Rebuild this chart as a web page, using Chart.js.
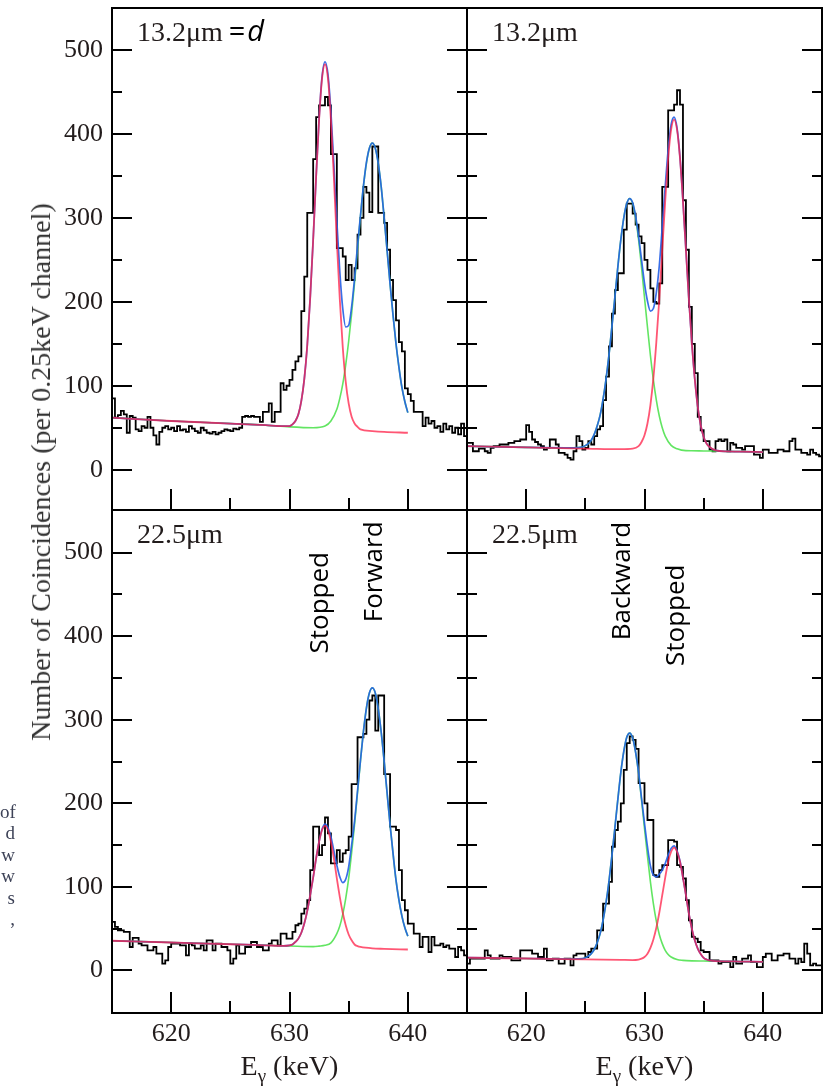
<!DOCTYPE html>
<html>
<head>
<meta charset="utf-8">
<script src="https://cdn.jsdelivr.net/npm/chart.js@4.4.1/dist/chart.umd.min.js"></script>
<style>
  body { margin: 0; background: #fff; width: 825px; height: 1088px; position: relative; overflow: hidden; }
  canvas { position: absolute; }
  #ytitle {
    position: absolute; left: 41px; top: 472px;
    transform: translate(-50%, -50%) rotate(-90deg);
    white-space: nowrap; font: 28px "Liberation Serif"; color: #333;
  }
  #margin-text {
    position: absolute; left: 0; top: 801px; width: 15px; text-align: right;
    font: 19px/21.4px "Liberation Serif"; color: #3d4257;
  }
</style>
</head>
<body>
<canvas id="tl" width="470" height="512" style="left:0;top:0"></canvas>
<canvas id="tr" width="360" height="512" style="left:465px;top:0"></canvas>
<canvas id="bl" width="470" height="588" style="left:0;top:500px"></canvas>
<canvas id="br" width="360" height="588" style="left:465px;top:500px"></canvas>
<div id="ytitle">Number of Coincidences (per 0.25keV channel)</div>
<div id="margin-text">of<br>d<br>w<br>w<br>s<br>,</div>
<script>
// 0.25 keV channels from 615 keV
const binStart = 615;
const binWidth = 0.25;

const yTickValues = [0, 100, 200, 300, 400, 500];
const yMinorValues = [50, 150, 250, 350, 450];
const xTickValues = [620, 630, 640];
const xMinorValues = [625, 635];

// counts per channel, one row per keV
const tlCounts = [
  85, 62, 65, 70,  66, 44, 64, 62,  48, 46, 52, 50,  63, 50, 41, 30,  45, 50, 52, 48,
  50, 46, 52, 47,  48, 45, 52, 49,  46, 44, 50, 47,  44, 43, 45, 42,  44, 46, 48, 47,
  46, 49, 48, 50,  63, 64, 63, 64,  63, 63, 57, 69,  69, 79, 57, 69,  69, 103, 95, 100,
  107, 119, 129, 135,  189, 230, 306, 306,  370, 420, 434, 434,  444, 434, 376, 376,  264, 264, 254, 226,
  244, 226, 240, 280,  300, 337, 330, 307,  385, 385, 306, 306,  294, 262, 226, 202,  178, 152, 141, 97,
  90, 82, 69, 69,  69, 52, 62, 55,  58, 50, 52, 45,  55, 48, 52, 44,  50, 42, 55, 40
];
const trCounts = [
  32, 32, 22, 22,  25, 25, 22, 20,  26, 28, 28, 30,  30, 30, 32, 32,  34, 34, 36, 36,
  53, 45, 36, 33,  30, 28, 24, 26,  36, 36, 30, 20,  20, 18, 14, 12,  22, 40, 34, 24,
  26, 34, 30, 40,  48, 52, 83, 111,  147, 186, 214, 234,  234, 286, 317, 317,  305, 292, 278, 270,
  250, 238, 216, 200,  198, 222, 337, 337,  428, 428, 435, 452,  435, 321, 262, 194,  150, 115, 63, 47,
  34, 34, 24, 22,  34, 36, 34, 36,  22, 32, 30, 26,  26, 24, 28, 28,  28, 18, 18, 14,
  24, 24, 20, 20,  20, 24, 24, 22,  22, 34, 37, 24,  24, 20, 20, 18,  24, 20, 18, 16
];
const blCounts = [
  58, 52, 48, 48,  46, 46, 28, 39,  39, 32, 30, 30,  24, 24, 28, 20,  20, 8, 12, 28,
  32, 32, 32, 30,  30, 18, 32, 30,  26, 26, 30, 24,  36, 36, 24, 32,  32, 28, 28, 24,
  8, 14, 30, 20,  20, 28, 28, 34,  34, 28, 28, 24,  24, 32, 36, 36,  30, 44, 44, 38,
  38, 46, 54, 56,  68, 74, 84, 120,  172, 172, 138, 150,  183, 164, 128, 128,  144, 130, 140, 144,
  160, 223, 223, 279,  279, 283, 300, 323,  329, 287, 329, 329,  235, 235, 172, 172,  168, 120, 84, 72,
  56, 56, 44, 44,  28, 40, 40, 22,  40, 30, 30, 32,  28, 30, 26, 26,  16, 28, 24, 18
];
const brCounts = [
  8, 14, 14, 14,  14, 14, 24, 18,  14, 14, 14, 18,  16, 16, 16, 12,  12, 12, 24, 24,
  24, 24, 20, 20,  16, 16, 26, 12,  12, 14, 14, 8,  8, 14, 14, 6,  18, 20, 20, 20,
  16, 22, 26, 26,  48, 48, 80, 80,  106, 148, 168, 178,  200, 240, 272, 280,  276, 265, 224, 224,
  200, 180, 180, 114,  112, 120, 126, 126,  156, 156, 154, 126,  124, 110, 84, 60,  40, 38, 34, 24,
  22, 22, 12, 12,  12, 8, 10, 10,  10, 4, 16, 8,  8, 14, 14, 18,  10, 10, 4, 4,
  16, 20, 20, 12,  12, 18, 18, 20,  20, 14, 14, 8,  14, 10, 32, 20,  6, 8, 6, 6
];

// fitted curves [E (keV), counts]: red = stopped, green = shifted, blue = sum
const tlRed = [[615,62],[620,58],[625,55],[628,53],[629.5,52],[630,52],[630.25,54],[630.5,58],[630.75,66],[631,82],[631.25,108],[631.5,148],[631.75,205],[632,274],[632.25,349],[632.5,417],[632.75,466],[633,483],[633.25,466],[633.5,417],[633.75,348],[634,272],[634.25,203],[634.5,146],[634.75,105],[635,79],[635.25,63],[635.5,55],[635.75,51],[636,48],[637,46],[638,45],[640,44]];
const tlGreen = [[615,62],[620,58],[625,55],[628,53],[630,51],[632,50],[633,52],[633.5,58],[634,72],[634.25,85],[634.5,102],[634.75,125],[635,153],[635.25,186],[635.5,223],[635.75,263],[636,302],[636.25,338],[636.5,365],[636.75,383],[637,389],[637.25,383],[637.5,365],[637.75,337],[638,300],[638.25,261],[638.5,221],[638.75,184],[639,150],[639.25,122],[639.5,98],[639.75,81],[640,68]];
const tlBlue = [[615,62],[620,58],[625,55],[628,53],[629.5,52],[630,52],[630.25,54],[630.5,58],[630.75,66],[631,82],[631.25,108],[631.5,148],[631.75,205],[632,274],[632.25,349],[632.5,418],[632.75,468],[633,486],[633.25,471],[633.5,426],[633.75,363],[634,296],[634.25,236],[634.5,192],[634.75,170],[635,172],[635.25,194],[635.5,228],[635.75,267],[636,303],[636.25,338],[636.5,366],[636.75,383],[637,389],[637.25,383],[637.5,365],[637.75,337],[638,300],[638.25,261],[638.5,221],[638.75,184],[639,150],[639.25,122],[639.5,98],[639.75,81],[640,68]];

const trRed = [[615,28],[620,26.6],[625,25.2],[628,24.4],[629,25],[629.5,28],[629.75,33],[630,41],[630.25,55],[630.5,77],[630.75,109],[631,152],[631.25,203],[631.5,262],[631.75,320],[632,371],[632.25,405],[632.5,417],[632.75,405],[633,371],[633.25,320],[633.5,262],[633.75,203],[634,151],[634.25,108],[634.5,75],[634.75,53],[635,39],[635.25,31],[635.5,27],[636,23],[637,21.8],[638,21.6],[640,21]];
const trGreen = [[615,28],[620,26.6],[623,26],[624,26],[624.75,27],[625.25,31],[625.5,35],[625.75,42],[626,52],[626.25,65],[626.5,84],[626.75,108],[627,137],[627.25,171],[627.5,206],[627.75,242],[628,274],[628.25,300],[628.5,317],[628.75,323],[629,317],[629.25,300],[629.5,274],[629.75,241],[630,205],[630.25,170],[630.5,136],[630.75,107],[631,83],[631.25,64],[631.5,50],[631.75,40],[632.25,29],[632.75,25],[633.5,22.7],[634,22.6],[635,22.3],[636,22.1],[637,21.8],[638,21.6],[640,21]];
const trBlue = [[615,28],[620,26.6],[624,26],[624.75,27],[625.25,31],[625.5,35],[625.75,42],[626,52],[626.25,65],[626.5,84],[626.75,108],[627,137],[627.25,171],[627.5,206],[627.75,242],[628,274],[628.25,300],[628.5,317],[628.75,323],[629,318],[629.25,302],[629.5,278],[629.75,250],[630,222],[630.25,201],[630.5,189],[630.75,192],[631,211],[631.25,243],[631.5,289],[631.75,337],[632,381],[632.25,411],[632.5,420],[632.75,407],[633,372],[633.25,320],[633.5,262],[633.75,203],[634,151],[634.25,108],[634.5,75],[634.75,53],[635,39],[635.25,31],[635.5,27],[636,23],[637,21.8],[638,21.6],[640,21]];

const blRed = [[615,35.5],[620,33.4],[625,31.3],[628,30],[629.5,29.4],[630,30],[630.25,31],[630.5,34],[630.75,38],[631,45],[631.25,56],[631.5,71],[631.75,90],[632,111],[632.25,134],[632.5,154],[632.75,168],[633,173],[633.25,168],[633.5,154],[633.75,134],[634,110],[634.25,88],[634.5,69],[634.75,54],[635,43],[635.25,36],[635.5,31],[635.75,29],[636,28],[637,26.3],[638,25.8],[640,25]];
const blGreen = [[615,35.5],[620,33.4],[625,31.3],[628,30],[630,29.2],[632,28.4],[632.5,29],[633,30],[633.5,33],[634,44],[634.25,53],[634.5,67],[634.75,86],[635,110],[635.25,141],[635.5,175],[635.75,213],[636,251],[636.25,286],[636.5,314],[636.75,332],[637,338],[637.25,332],[637.5,313],[637.75,285],[638,250],[638.25,212],[638.5,174],[638.75,140],[639,108],[639.25,84],[639.5,65],[639.75,51],[640,41]];
const blBlue = [[615,35.5],[620,33.4],[625,31.3],[628,30],[629.5,29.4],[630,30],[630.25,31],[630.5,34],[630.75,38],[631,45],[631.25,56],[631.5,71],[631.75,90],[632,111],[632.25,134],[632.5,154],[632.75,169],[633,175],[633.25,171],[633.5,160],[633.75,143],[634,126],[634.25,112],[634.5,105],[634.75,109],[635,124],[635.25,150],[635.5,179],[635.75,215],[636,252],[636.25,286],[636.5,314],[636.75,332],[637,338],[637.25,332],[637.5,313],[637.75,285],[638,250],[638.25,212],[638.5,174],[638.75,140],[639,108],[639.25,84],[639.5,65],[639.75,51],[640,41]];

const brRed = [[615,15.2],[620,14.2],[625,13.2],[628,12.6],[629,12.4],[629.5,13],[629.75,14],[630,16],[630.25,20],[630.5,27],[630.75,37],[631,51],[631.25,69],[631.5,90],[631.75,111],[632,130],[632.25,142],[632.5,147],[632.75,142],[633,130],[633.25,111],[633.5,90],[633.75,68],[634,50],[634.25,36],[634.5,26],[634.75,19.5],[635,15],[635.25,13],[635.5,12],[636,11],[637,10.8],[638,10.6],[640,10.2]];
const brGreen = [[615,15.2],[620,14.2],[623,13.6],[624,13.6],[624.75,14],[625.25,17],[625.5,20],[625.75,25],[626,33],[626.25,44],[626.5,60],[626.75,81],[627,107],[627.25,138],[627.5,171],[627.75,205],[628,237],[628.25,262],[628.5,279],[628.75,284],[629,278],[629.25,261],[629.5,236],[629.75,204],[630,170],[630.25,137],[630.5,106],[630.75,80],[631,59],[631.25,43],[631.5,32],[631.75,24],[632,19],[632.25,16],[632.75,13],[633.25,12],[634,11.4],[635,11.2],[636,11],[637,10.8],[638,10.6],[640,10.2]];
const brBlue = [[615,15.2],[620,14.2],[624,13.6],[624.75,14],[625.25,17],[625.5,20],[625.75,25],[626,33],[626.25,44],[626.5,60],[626.75,81],[627,107],[627.25,138],[627.5,171],[627.75,205],[628,237],[628.25,262],[628.5,279],[628.75,284],[629,278],[629.25,261],[629.5,237],[629.75,206],[630,176],[630.25,148],[630.5,125],[630.75,114],[631,112],[631.25,115],[631.5,120],[631.75,128],[632,138],[632.25,146],[632.5,149],[632.75,143],[633,131],[633.25,111],[633.5,90],[633.75,68],[634,50],[634.25,36],[634.5,26],[634.75,19.5],[635,15],[635.25,13],[635.5,12],[636,11],[637,10.8],[638,10.6],[640,10.2]];

// frame and inward tick marks on every panel
const frameTicks = {
  id: 'frameTicks',
  afterDatasetsDraw(chart) {
    const { ctx, chartArea: a, scales: { x, y } } = chart;
    ctx.save();
    ctx.strokeStyle = '#000';
    ctx.lineWidth = 2;
    ctx.beginPath();
    const yMark = (v, len) => {
      const py = Math.round(y.getPixelForValue(v));
      ctx.moveTo(a.left, py); ctx.lineTo(a.left + len, py);
      ctx.moveTo(a.right, py); ctx.lineTo(a.right - len, py);
    };
    yTickValues.forEach(v => yMark(v, 20));
    yMinorValues.forEach(v => yMark(v, 10));
    const xMark = (v, len) => {
      const px = Math.round(x.getPixelForValue(v));
      ctx.moveTo(px, a.bottom); ctx.lineTo(px, a.bottom - len);
    };
    xTickValues.forEach(v => xMark(v, 21));
    xMinorValues.forEach(v => xMark(v, 12));
    ctx.stroke();
    ctx.strokeRect(a.left, a.top, a.right - a.left, a.bottom - a.top);
    ctx.restore();
  }
};

// thickness labels, peak names and the energy axis title
const panelText = {
  id: 'panelText',
  afterDraw(chart, args, o) {
    const { ctx, chartArea: a, scales: { x, y } } = chart;
    ctx.save();
    ctx.fillStyle = '#221c1c';
    ctx.font = '28px "Liberation Serif"';
    ctx.textBaseline = 'alphabetic';
    ctx.fillText(o.label, a.left + 25, a.top + 33);
    if (o.suffix) {
      let px = a.left + 25 + ctx.measureText(o.label).width + 6;
      ctx.fillStyle = '#000';
      ctx.font = '29px "Open Sans"';
      ctx.fillText('=', px, a.top + 33);
      px += ctx.measureText('=').width + 2;
      ctx.font = 'italic 29px "Open Sans"';
      ctx.fillText('d', px, a.top + 33);
    }
    (o.notes || []).forEach(n => {
      ctx.save();
      ctx.translate(x.getPixelForValue(n.e), y.getPixelForValue(n.v));
      ctx.rotate(-Math.PI / 2);
      ctx.fillStyle = '#000';
      ctx.font = '26px "Open Sans"';
      ctx.textAlign = 'center';
      ctx.textBaseline = 'middle';
      ctx.fillText(n.text, 0, 0);
      ctx.restore();
    });
    if (o.xTitle) {
      ctx.fillStyle = '#221c1c';
      ctx.font = '28px "Liberation Serif"';
      const wE = ctx.measureText('E').width;
      const rest = ' (keV)';
      const wR = ctx.measureText(rest).width;
      ctx.font = '19px "Liberation Serif"';
      const wG = ctx.measureText('γ').width;
      let px = (a.left + a.right) / 2 - (wE + wG + wR) / 2;
      const base = a.bottom + 62;
      ctx.font = '28px "Liberation Serif"';
      ctx.fillText('E', px, base);
      px += wE;
      ctx.font = '19px "Liberation Serif"';
      ctx.fillText('γ', px, base + 7);
      px += wG;
      ctx.font = '28px "Liberation Serif"';
      ctx.fillText(rest, px, base);
    }
    ctx.restore();
  }
};

function curve(points, color, width) {
  return {
    data: points.map(([e, v]) => ({ x: e, y: v })),
    borderColor: color, borderWidth: width, pointRadius: 0,
    cubicInterpolationMode: 'monotone', fill: false
  };
}

function histogram(counts) {
  const pts = counts.map((c, i) => ({ x: binStart + i * binWidth, y: c }));
  pts.push({ x: binStart + counts.length * binWidth, y: counts[counts.length - 1] });
  return { data: pts, stepped: 'before', borderColor: '#000', borderWidth: 1.8, pointRadius: 0, fill: false };
}

function makePanel(id, p) {
  const tickFont = { family: 'Liberation Serif', size: 26 };
  const noPad = s => { s.paddingTop = 0; s.paddingBottom = 0; s.paddingLeft = 0; s.paddingRight = 0; };
  new Chart(document.getElementById(id), {
    type: 'line',
    data: {
      // first dataset is drawn on top
      datasets: [
        curve(p.red, 'rgba(255, 30, 70, 0.75)', 1.8),
        curve(p.blue, 'rgba(35, 95, 230, 0.9)', 1.7),
        curve(p.green, 'rgba(70, 225, 70, 0.85)', 1.6),
        histogram(p.counts)
      ]
    },
    options: {
      responsive: false,
      animation: false,
      devicePixelRatio: 1,
      layout: { padding: p.padding },
      plugins: {
        legend: { display: false },
        tooltip: { enabled: false },
        panelText: { label: p.label, suffix: p.suffix, notes: p.notes, xTitle: p.showX }
      },
      scales: {
        x: {
          type: 'linear', min: 615, max: 645,
          display: p.showX,
          grid: { display: false, drawTicks: false },
          border: { display: false },
          ticks: { font: tickFont, color: '#221c1c', padding: 6, maxRotation: 0 },
          afterBuildTicks: s => { s.ticks = xTickValues.map(v => ({ value: v })); },
          afterFit: s => { s.height = p.showX ? 75 : 0; noPad(s); }
        },
        y: {
          type: 'linear', min: p.yMin, max: p.yMax,
          display: p.showY,
          grid: { display: false, drawTicks: false },
          border: { display: false },
          ticks: { font: tickFont, color: '#221c1c', padding: 9 },
          afterBuildTicks: s => { s.ticks = yTickValues.map(v => ({ value: v })); },
          afterFit: s => { s.width = p.showY ? 112 : 0; noPad(s); }
        }
      }
    },
    plugins: [frameTicks, panelText]
  });
}

makePanel('tl', {
  counts: tlCounts, red: tlRed, green: tlGreen, blue: tlBlue,
  yMin: -48, yMax: 550, showY: true, showX: false,
  padding: { top: 8, right: 3, bottom: 2, left: 0 },
  label: '13.2μm', suffix: true
});
makePanel('tr', {
  counts: trCounts, red: trRed, green: trGreen, blue: trBlue,
  yMin: -48, yMax: 550, showY: false, showX: false,
  padding: { top: 8, right: 3, bottom: 2, left: 2 },
  label: '13.2μm'
});
makePanel('bl', {
  counts: blCounts, red: blRed, green: blGreen, blue: blBlue,
  yMin: -51, yMax: 551, showY: true, showX: true,
  padding: { top: 10, right: 3, bottom: 0, left: 0 },
  label: '22.5μm',
  notes: [{ text: 'Stopped', e: 632.65, v: 440 }, { text: 'Forward', e: 637.2, v: 477 }]
});
makePanel('br', {
  counts: brCounts, red: brRed, green: brGreen, blue: brBlue,
  yMin: -51, yMax: 551, showY: false, showX: true,
  padding: { top: 10, right: 3, bottom: 0, left: 2 },
  label: '22.5μm',
  notes: [{ text: 'Backward', e: 628.15, v: 466 }, { text: 'Stopped', e: 632.7, v: 425 }]
});
</script>
</body>
</html>
